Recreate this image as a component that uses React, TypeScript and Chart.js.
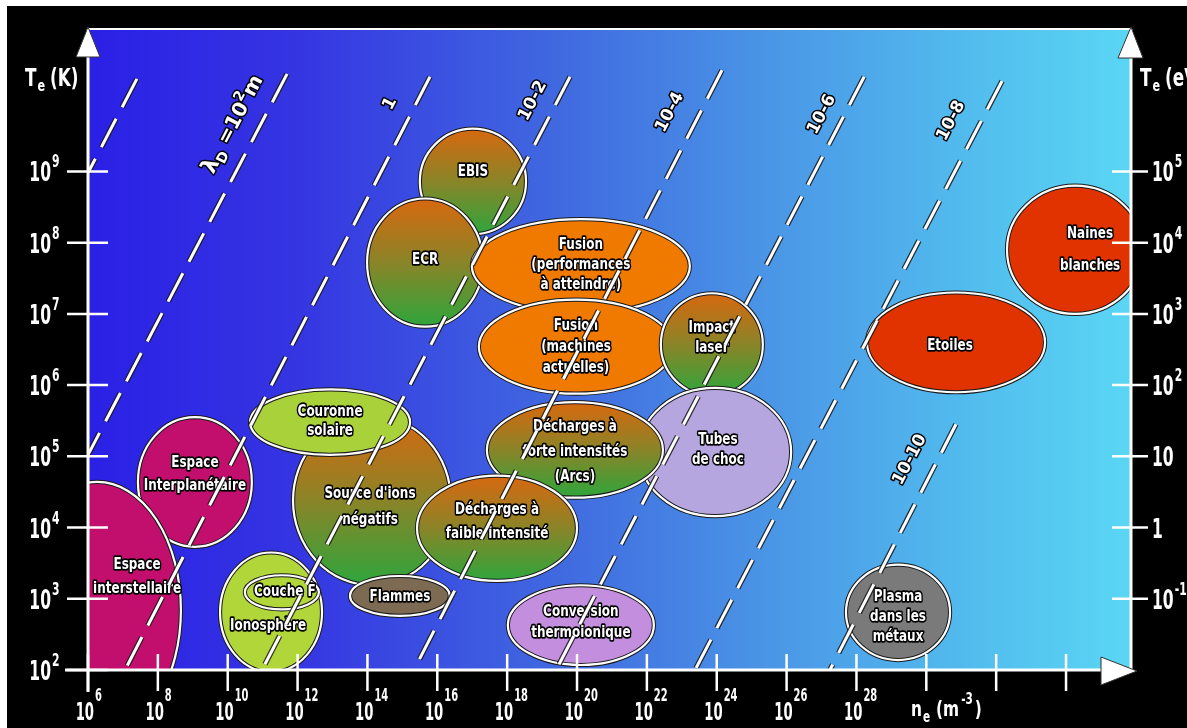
import React, { useEffect, useRef } from "react";
import { Chart, registerables } from "chart.js";

Chart.register(...registerables);

const W = 1187;
const H = 728;

// ---------- axes (exponents of ten) ----------
const xRangeExp = [6, 35.86];
const yRangeExp = [2, 11];
const xTickExponents = [6, 8, 10, 12, 14, 16, 18, 20, 22, 24, 26, 28, 30, 32, 34];
const xLabelExponents = [6, 8, 10, 12, 14, 16, 18, 20, 22, 24, 26, 28];
const yTickExponents = [2, 3, 4, 5, 6, 7, 8, 9];
const yRightTickExponents = [3, 4, 5, 6, 7, 8, 9];
const yRightLabelBase = ["10", "1", "10", "10", "10", "10", "10"];
const yRightLabelExp = ["-1", "", "", "2", "3", "4", "5"];

// ---------- Debye-length lines (log10 n, log10 T at both ends) ----------
const debyeNames = ["10^4 m", "10^2 m", "1 m", "10^-2 m", "10^-4 m", "10^-6 m", "10^-8 m", "10^-10 m"];
const debyeUpperN = [7.4, 11.7, 15.79, 19.8, 24.15, 28.22, 32.17, 30.85];
const debyeUpperT = [10.3, 10.37, 10.33, 10.33, 10.42, 10.33, 10.27, 5.45];
const debyeLowerN = [6.0, 6.0, 7.06, 10.98, 15.33, 19.4, 23.38, 27.24];
const debyeLowerT = [8.98, 5.02, 2, 2, 2, 2, 2, 2];
const debyeLabels = ["", "λD", "1", "10-2", "10-4", "10-6", "10-8", "10-10"];
const debyeLabelN = [0, 10.12, 14.65, 18.74, 22.66, 27.01, 30.71, 29.53];
const debyeLabelT = [0, 9.67, 9.95, 9.99, 9.83, 9.8, 9.71, 4.95];

// ---------- plasma regions (log10 centre, half-extent in decades) ----------
const regionNames = [
  "Espace interplanétaire", "Espace interstellaire", "EBIS", "ECR",
  "Fusion (performances à atteindre)", "Fusion (machines actuelles)", "Impact laser",
  "Tubes de choc", "Décharges à forte intensités", "Source d'ions négatifs",
  "Couronne solaire", "Décharges à faible intensité", "Flammes", "Ionosphère",
  "Couche F", "Conversion thermoionique", "Plasma dans les métaux", "Etoiles", "Naines blanches",
];
const regionLogN = [9.06, 6.26, 17.02, 15.65, 20.11, 19.97, 23.86, 23.95, 19.94, 14.13, 12.93, 17.71, 14.93, 11.24, 11.55, 20.11, 29.19, 30.85, 34.26];
const regionLogT = [4.64, 2.84, 8.86, 7.72, 7.67, 6.54, 6.57, 5.06, 5.09, 4.38, 5.48, 3.99, 3.04, 2.81, 3.09, 2.63, 2.81, 6.6, 7.9];
const regionSpanN = [1.63, 2.4, 1.52, 1.66, 3.12, 2.78, 1.46, 2.18, 2.52, 2.26, 2.29, 2.29, 1.43, 1.46, 1.06, 2.09, 1.49, 2.55, 1.95];
const regionSpanT = [0.91, 1.8, 0.74, 0.9, 0.66, 0.66, 0.72, 0.9, 0.67, 1.19, 0.46, 0.74, 0.28, 0.84, 0.24, 0.56, 0.67, 0.7, 0.9];
const regionText = [
  ["Espace", "Interplanétaire"], ["Espace", "interstellaire"], ["EBIS"], ["ECR"],
  ["Fusion", "(performances", "à atteindre)"], ["Fusion", "(machines", "actuelles)"], ["Impact", "laser"],
  ["Tubes", "de choc"], ["Décharges à", "forte intensités", "(Arcs)"], ["Source d'ions", "négatifs"],
  ["Couronne", "solaire"], ["Décharges à", "faible intensité"], ["Flammes"], ["Ionosphère"],
  ["Couche F"], ["Conversion", "thermoionique"], ["Plasma", "dans les", "métaux"], ["Etoiles"], ["Naines", "blanches"],
];

// ---------- styles ----------
const regionFill = ["magenta", "magenta", "grad", "grad", "orange", "orange", "grad", "lavender", "grad", "grad", "lime", "grad", "brown", "lime2", "none", "violet", "grey", "red", "red"];
const labelOffset = [[0, -7], [40, -33], [0, -9], [0, -2], [0, -1], [0, 0], [0, -6], [3, -2], [0, 2], [-2, 7], [0, -1], [0, -6], [0, 1], [-3, 14], [3, 0], [0, -3], [0, 5], [-6, 4], [15, 0]];
const labelSpacing = [23, 24, 20, 20, 20, 21, 20, 20, 25, 26, 19, 24, 20, 20, 20, 21, 20, 20, 32];
const FILLS: Record<string, string> = {
  magenta: "#c20f6e",
  orange: "#f07a00",
  lavender: "#b6a6e0",
  lime: "#a9d13a",
  lime2: "#b0d63a",
  brown: "#7d6a52",
  violet: "#c48ede",
  grey: "#7a7a7a",
  red: "#e03300",
};
const FONT = '"DejaVu Sans", "Liberation Sans", sans-serif';

function txt(ctx: CanvasRenderingContext2D, s: string, x: number, y: number, size: number, o: any = {}) {
  const sx = o.sx ?? 1;
  ctx.save();
  ctx.translate(x, y);
  if (o.rot) ctx.rotate(o.rot);
  ctx.scale(sx, 1);
  ctx.font = `${o.bold === false ? "" : "bold "}${size}px ${FONT}`;
  ctx.textAlign = o.align ?? "left";
  ctx.textBaseline = o.baseline ?? "alphabetic";
  if (o.stroke) {
    ctx.lineWidth = o.stroke;
    ctx.lineJoin = "round";
    ctx.strokeStyle = "#000";
    ctx.strokeText(s, 0, 0);
  }
  ctx.fillStyle = o.color ?? "#fff";
  ctx.fillText(s, 0, 0);
  ctx.restore();
}
function tw(ctx: CanvasRenderingContext2D, s: string, size: number, sx = 1, bold = true) {
  ctx.save();
  ctx.font = `${bold ? "bold " : ""}${size}px ${FONT}`;
  const w = ctx.measureText(s).width * sx;
  ctx.restore();
  return w;
}
function pow(ctx: CanvasRenderingContext2D, x: number, y: number, base: string, exp: string, align: string, bs: number, es: number, sx: number, expDy: number) {
  const bw = tw(ctx, base, bs, sx);
  const bx = align === "right" ? x - bw : x;
  txt(ctx, base, bx, y, bs, { sx });
  if (exp) txt(ctx, exp, bx + bw + 1, y + expDy, es, { sx });
}
function parts(ctx: CanvasRenderingContext2D, x: number, y: number, list: any[], sx: number) {
  let cx = x;
  for (const p of list) {
    txt(ctx, p[0], cx, y + p[2], p[1], { sx });
    cx += tw(ctx, p[0], p[1], sx) + (p[3] ?? 0);
  }
}

const plasmaPlugin = {
  id: "plasmaMap",
  beforeDraw(chart: any) {
    const { ctx, chartArea: a } = chart;
    ctx.save();
    ctx.fillStyle = "#fff";
    ctx.fillRect(0, 0, W, H);
    ctx.fillStyle = "#000";
    ctx.fillRect(7, 6, W - 7, H - 6);
    const g = ctx.createLinearGradient(a.left, 0, a.right, 0);
    g.addColorStop(0, "#2a20e6");
    g.addColorStop(0.2, "#3535e2");
    g.addColorStop(0.45, "#4069e0");
    g.addColorStop(0.65, "#4a95e6");
    g.addColorStop(0.85, "#52bdee");
    g.addColorStop(1, "#5ad6f4");
    ctx.fillStyle = g;
    ctx.fillRect(a.left, a.top, a.right - a.left, a.bottom - a.top);
    ctx.restore();
  },
  beforeDatasetsDraw(chart: any) {
    const { ctx, chartArea: a } = chart;
    const xs = chart.scales.x;
    const ys = chart.scales.y;
    ctx.save();
    ctx.beginPath();
    ctx.rect(a.left, a.top, a.right - a.left, a.bottom - a.top);
    ctx.clip();
    const geo: number[][] = [];
    regionNames.forEach((_, i) => {
      const cx = xs.getPixelForValue(10 ** regionLogN[i]);
      const rx = xs.getPixelForValue(10 ** (regionLogN[i] + regionSpanN[i])) - cx;
      const cy = ys.getPixelForValue(10 ** regionLogT[i]);
      const ry = cy - ys.getPixelForValue(10 ** (regionLogT[i] + regionSpanT[i]));
      geo.push([cx, cy]);
      ctx.beginPath();
      ctx.ellipse(cx, cy, rx, ry, 0, 0, Math.PI * 2);
      const f = regionFill[i];
      if (f === "grad") {
        const gr = ctx.createLinearGradient(0, cy - ry, 0, cy + ry);
        gr.addColorStop(0, "#d8680f");
        gr.addColorStop(0.5, "#8a8428");
        gr.addColorStop(1, "#2ea63c");
        ctx.fillStyle = gr;
        ctx.fill();
      } else if (f !== "none") {
        ctx.fillStyle = FILLS[f];
        ctx.fill();
      }
      ctx.lineWidth = 4.2;
      ctx.strokeStyle = "#1a1a1a";
      ctx.stroke();
      ctx.lineWidth = 2.2;
      ctx.strokeStyle = "#ffffff";
      ctx.stroke();
    });
    ctx.restore();
    regionText.forEach((lines, i) => {
      const [cx, cy] = geo[i];
      const sp = labelSpacing[i];
      const x = cx + labelOffset[i][0];
      const y0 = cy + labelOffset[i][1] - ((lines.length - 1) * sp) / 2;
      lines.forEach((s, k) => {
        txt(ctx, s, x, y0 + k * sp, 15, { sx: 0.8, align: "center", baseline: "middle", stroke: 3.5 });
      });
    });
  },
  afterDatasetsDraw(chart: any) {
    const { ctx, chartArea: a } = chart;
    const xs = chart.scales.x;
    const ys = chart.scales.y;
    const line = (x1: number, y1: number, x2: number, y2: number, w: number) => {
      ctx.beginPath();
      ctx.moveTo(x1, y1);
      ctx.lineTo(x2, y2);
      ctx.lineWidth = w;
      ctx.strokeStyle = "#fff";
      ctx.stroke();
    };
    ctx.save();
    ctx.lineCap = "butt";
    // frame / axes
    line(a.left, a.top, a.right, a.top, 2);
    line(a.left, a.top, a.left, a.bottom + 22, 3);
    line(a.right, a.top, a.right, a.bottom, 3);
    line(65, a.bottom, a.right - 20, a.bottom, 3);
    xTickExponents.forEach((e) => {
      const px = xs.getPixelForValue(10 ** e);
      line(px, a.bottom - 16, px, a.bottom + 21, 2.5);
    });
    yTickExponents.forEach((e) => {
      const py = ys.getPixelForValue(10 ** e);
      line(a.left - 21, py, a.left + 20, py, 2.5);
    });
    yRightTickExponents.forEach((e) => {
      const py = ys.getPixelForValue(10 ** e);
      line(a.right - 19, py, a.right + 17, py, 2.5);
    });
    // arrows
    const tri = (pts: number[][]) => {
      ctx.beginPath();
      ctx.moveTo(pts[0][0], pts[0][1]);
      ctx.lineTo(pts[1][0], pts[1][1]);
      ctx.lineTo(pts[2][0], pts[2][1]);
      ctx.closePath();
      ctx.fillStyle = "#fff";
      ctx.fill();
      ctx.lineWidth = 1;
      ctx.strokeStyle = "#333";
      ctx.stroke();
    };
    tri([[a.left, a.top - 2], [a.left - 12, a.top + 28], [a.left + 12, a.top + 28]]);
    tri([[a.right, a.top - 2], [a.right - 13, a.top + 29], [a.right + 12, a.top + 29]]);
    tri([[a.right + 6, a.bottom + 1], [a.right - 30, a.bottom - 13], [a.right - 30, a.bottom + 15]]);

    // tick labels
    xLabelExponents.forEach((e) => {
      const px = xs.getPixelForValue(10 ** e);
      pow(ctx, px + 6, a.bottom + 50, "10", String(e), "right", 24, 18, 0.55, -19);
    });
    yTickExponents.forEach((e) => {
      const py = ys.getPixelForValue(10 ** e);
      pow(ctx, 51, py + 10, "10", String(e), "right", 26, 18, 0.6, -14);
    });
    yRightTickExponents.forEach((e, i) => {
      const py = ys.getPixelForValue(10 ** e);
      pow(ctx, a.right + 21, py + 10, yRightLabelBase[i], yRightLabelExp[i], "left", 26, 18, 0.6, -14);
    });
    // axis titles
    parts(ctx, 25, 86, [["T", 24, 0, 1], ["e", 16, 5, 5], ["(K)", 24, 0]], 0.7);
    parts(ctx, 1140, 86, [["T", 24, 0, 1], ["e", 16, 5, 5], ["(eV)", 24, 0]], 0.7);
    parts(ctx, 911, 716, [["n", 22, 0, 1], ["e", 15, 6, 6], ["(m", 22, 0, 2], ["-3", 15, -12, 2], [")", 22, 0]], 0.7);

    // Debye-line labels, aligned with the lines
    const p1x = xs.getPixelForValue(10 ** debyeLowerN[1]);
    const p1y = ys.getPixelForValue(10 ** debyeLowerT[1]);
    const p2x = xs.getPixelForValue(10 ** debyeUpperN[1]);
    const p2y = ys.getPixelForValue(10 ** debyeUpperT[1]);
    const rot = Math.atan2(p2y - p1y, p2x - p1x);
    debyeLabels.forEach((lab, i) => {
      if (!lab) return;
      const lx = xs.getPixelForValue(10 ** debyeLabelN[i]);
      const ly = ys.getPixelForValue(10 ** debyeLabelT[i]);
      ctx.save();
      ctx.translate(lx, ly);
      ctx.rotate(rot);
      if (lab === "λD") {
        const seq: any[] = [["λ", 22, 0], ["D", 14, 5], [" =10", 20, 0], ["2", 14, -9], ["m", 20, 0]];
        const total = seq.reduce((s, p) => s + tw(ctx, p[0], p[1], 1), 0);
        let cx = -total / 2;
        for (const p of seq) {
          txt(ctx, p[0], cx, 7 + p[2], p[1], { stroke: 3 });
          cx += tw(ctx, p[0], p[1], 1);
        }
      } else {
        txt(ctx, lab, 0, 0, 17, { align: "center", baseline: "middle", stroke: 3 });
      }
      ctx.restore();
    });
    ctx.restore();
  },
};

export default function App() {
  const ref = useRef<HTMLCanvasElement | null>(null);
  useEffect(() => {
    document.body.style.margin = "0";
    document.body.style.overflow = "hidden";
    const canvas = ref.current;
    if (!canvas) return;
    const datasets: any[] = [];
    debyeNames.forEach((name, i) => {
      const pts = [
        { x: 10 ** debyeUpperN[i], y: 10 ** debyeUpperT[i] },
        { x: 10 ** debyeLowerN[i], y: 10 ** debyeLowerT[i] },
      ];
      datasets.push({
        label: `λD = ${name} (contour)`,
        data: pts,
        showLine: true,
        pointRadius: 0,
        borderColor: "rgba(25,25,25,0.85)",
        borderWidth: 5.5,
        borderDash: [32, 13],
        borderCapStyle: "butt",
        order: 2,
      });
      datasets.push({
        label: `λD = ${name}`,
        data: pts,
        showLine: true,
        pointRadius: 0,
        borderColor: "#ffffff",
        borderWidth: 3,
        borderDash: [32, 13],
        borderCapStyle: "butt",
        order: 1,
      });
    });
    const chart = new Chart(canvas, {
      type: "scatter",
      data: { datasets },
      options: {
        animation: false,
        responsive: false,
        maintainAspectRatio: false,
        devicePixelRatio: 1,
        layout: { padding: { left: 88, right: W - 1131, top: 29, bottom: H - 670 } },
        scales: {
          x: {
            type: "logarithmic",
            min: 10 ** xRangeExp[0],
            max: 10 ** xRangeExp[1],
            display: false,
            afterBuildTicks: (s: any) => {
              s.min = 10 ** xRangeExp[0];
              s.max = 10 ** xRangeExp[1];
            },
          },
          y: {
            type: "logarithmic",
            min: 10 ** yRangeExp[0],
            max: 10 ** yRangeExp[1],
            display: false,
            afterBuildTicks: (s: any) => {
              s.min = 10 ** yRangeExp[0];
              s.max = 10 ** yRangeExp[1];
            },
          },
        },
        plugins: { legend: { display: false }, tooltip: { enabled: false } },
      } as any,
      plugins: [plasmaPlugin as any],
    });
    return () => chart.destroy();
  }, []);
  return (
    <div style={{ width: W, height: H, position: "relative", overflow: "hidden", background: "#fff" }}>
      <canvas ref={ref} width={W} height={H} style={{ display: "block", width: W, height: H }} />
    </div>
  );
}
